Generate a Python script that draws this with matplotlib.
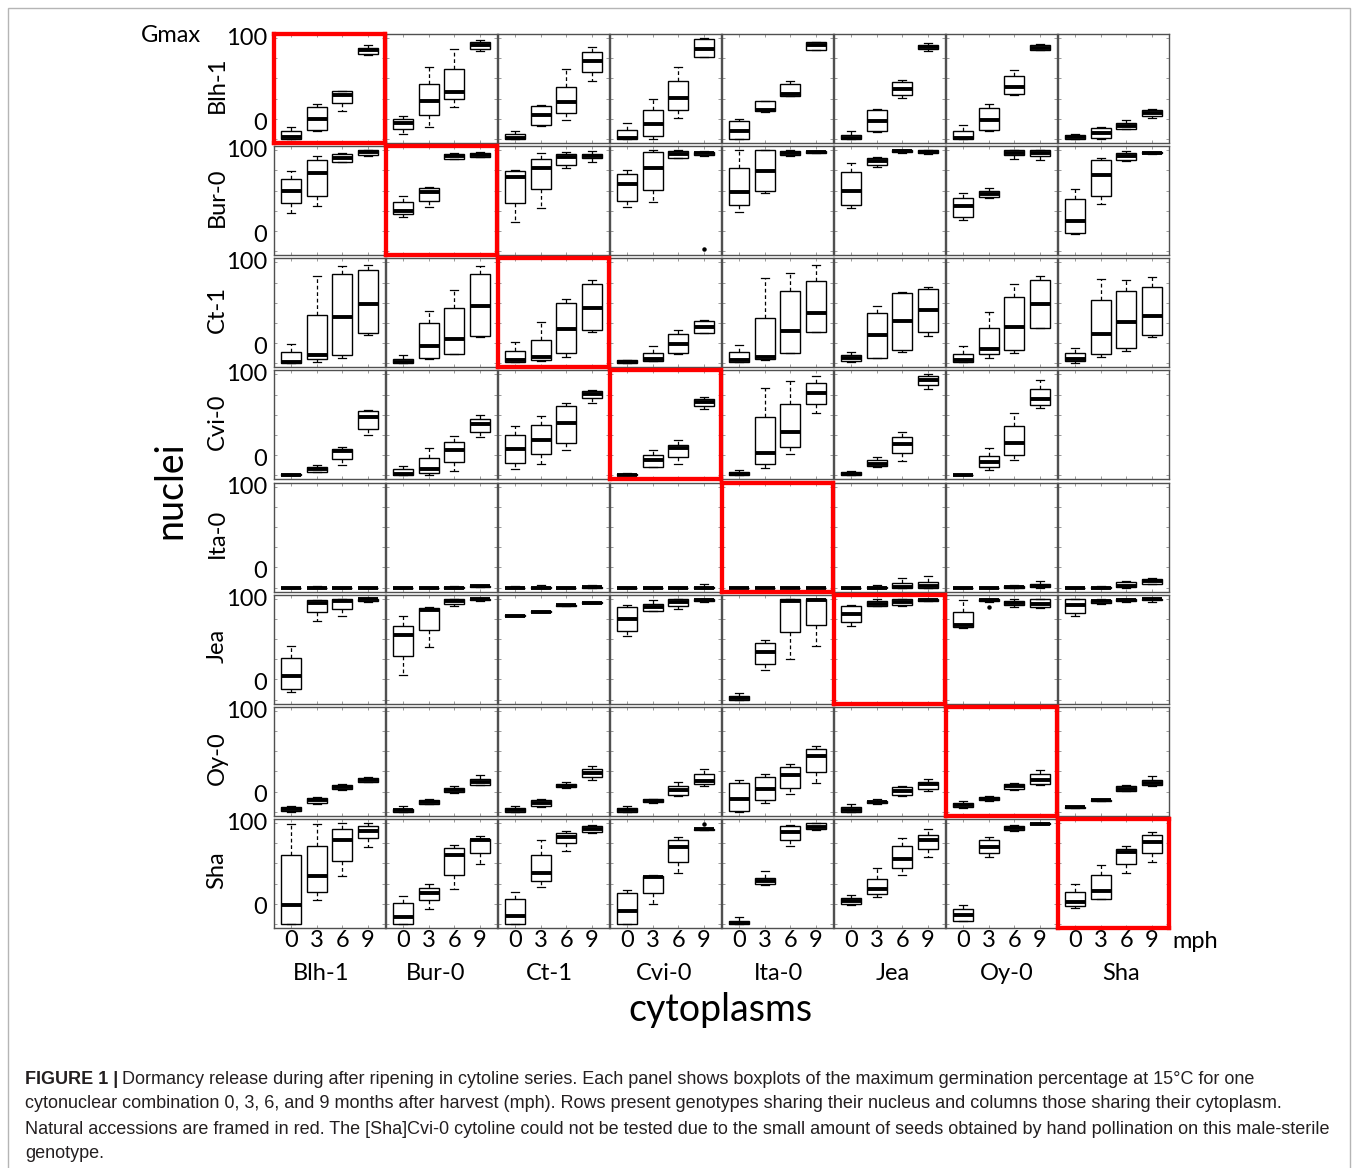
import matplotlib
matplotlib.use("Agg")
import matplotlib.pyplot as plt
from matplotlib.patches import Rectangle

plt.rcParams['font.family'] = ['Lato', 'DejaVu Sans']

genotypes = ["Blh-1", "Bur-0", "Ct-1", "Cvi-0", "Ita-0", "Jea", "Oy-0", "Sha"]
mph = ["0", "3", "6", "9"]

# Gmax box statistics (whislo, q1, median, q3, whishi) per cytoplasm, for 0/3/6/9 mph.
# One list per nucleus, cytoplasms in the order of `genotypes`.
blh1_nuc = [
    [(0, 0, 2, 8, 12), (8, 8.5, 19.5, 32, 35), (28, 36, 44, 48, 48), (83, 84, 88, 90, 93)],
    [(5, 9.5, 16, 19.5, 22.5), (12, 23.5, 38, 54, 71), (32, 40, 47, 69, 89), (87, 89.5, 93.5, 96, 98)],
    [(0, 0, 1, 5, 7.5), (13, 14, 23.5, 32.5, 33.5), (19, 26, 37, 51, 69), (57, 66, 77.5, 86, 91)],
    [(0, 0, 1, 8.5, 16), (0, 3, 14.5, 29, 40), (21, 28.5, 41, 57.5, 71), (81, 81, 89.5, 99.5, 100)],
    [(0, 0, 7.5, 17.5, 19.5), (27, 28, 29, 37.5, 38), (42.5, 42.5, 44.5, 54.5, 57.5), (88, 88.5, 93, 96, 96.5)],
    [(0, 0, 1, 4, 7.5), (6.5, 7.5, 18, 28.5, 29.5), (40.5, 43.5, 49.5, 56, 58), (87, 89, 91.5, 93.5, 95)],
    [(0, 0, 1, 8, 14), (7.5, 8.5, 19, 30.5, 34.5), (44, 44.5, 51, 62.5, 68.5), (88, 88, 90, 93, 94)],
    [(0, 0, 2, 4, 5), (0, 1, 6, 11, 12), (9.5, 9.5, 12.5, 16, 18.5), (21, 22.5, 26, 28.5, 30)],
]
bur0_nuc = [
    [(38, 48, 60, 71, 79), (45, 55, 77, 90, 94), (88, 88, 92.5, 96, 97), (94, 95, 98, 100, 100)],
    [(33.5, 36.5, 40, 48.5, 55), (44, 50, 58.5, 63, 64), (91, 91.5, 94, 96, 97), (93, 93.5, 95.5, 97, 98)],
    [(28.5, 48, 73.5, 79, 80), (42.5, 62, 82, 91.5, 97), (82, 85.5, 93, 96.5, 98), (88.5, 92.5, 94.5, 96.5, 99)],
    [(44, 50, 66.5, 76.5, 80), (49, 61, 82, 98, 100), (92, 92.5, 96.5, 99.5, 100), (94, 95, 97, 98, 99)],
    [(39, 46, 59, 82, 100), (58, 60, 79, 100, 100), (94, 95, 97, 99.5, 100), (97, 97.5, 98, 99, 99.5)],
    [(43, 46, 60, 78.5, 87.5), (83, 85, 89, 92.5, 93), (97, 98, 99, 100, 100), (96, 97, 98, 100, 100)],
    [(31, 33.5, 45, 52.5, 57.5), (53, 53.5, 57, 60, 63), (91, 95, 97.5, 100, 100), (90, 94.5, 97, 100, 100)],
    [(16.5, 17.5, 30, 51.5, 62), (47, 54.5, 75, 90, 92.5), (89, 90, 94.5, 97.5, 99), (96, 97, 97.5, 98, 98)],
]
ct1_nuc = [
    [(0, 0, 1, 11, 19.5), (1.2, 3.9, 7.9, 47.9, 86.5), (4.9, 7.9, 46.2, 88.9, 96.5), (28.2, 29.9, 58.9, 92.2, 97.2)],
    [(0, 0, 1.5, 4.5, 7.9), (3.9, 5.5, 17.5, 39.9, 52.2), (8.9, 8.9, 24.5, 54.5, 72.2), (26.2, 27.2, 56.5, 88.9, 96.2)],
    [(1, 1.2, 3.2, 12.2, 21.2), (2.2, 2.9, 6.2, 22.9, 40.5), (6.5, 10.5, 33.9, 59.9, 63.9), (31.2, 33.2, 54.5, 78.9, 82.9)],
    [(0, 0, 1.5, 3, 3.5), (2.2, 2.2, 3.9, 10.2, 17.2), (8.9, 10.5, 18.9, 28.9, 33.2), (29.5, 29.9, 35.5, 41.5, 42.9)],
    [(1, 1.2, 3.2, 11.2, 17.9), (3.2, 3.9, 6.5, 44.5, 84.5), (10.2, 10.2, 32.2, 71.2, 89.9), (31.2, 31.2, 49.9, 81.5, 97.2)],
    [(1.2, 2.2, 5.5, 8.2, 11.5), (5.5, 5.5, 27.9, 49.9, 56.5), (11.5, 12.9, 41.5, 69.9, 70.5), (27.2, 31.2, 53.2, 73.9, 75.5)],
    [(1, 1.2, 3.2, 8.9, 17.2), (5.5, 8.9, 13.9, 34.9, 51.2), (10.5, 12.9, 35.5, 65.5, 78.9), (34.5, 34.9, 58.9, 82.2, 86.5)],
    [(0.5, 2.2, 4.5, 9.9, 15.5), (6.5, 9.5, 28.9, 62.2, 83.2), (12.2, 15.5, 40.5, 71.2, 82.2), (26.2, 28.2, 47.2, 75.5, 85.5)],
]
cvi0_nuc = [
    [(0, 0, 0.5, 1, 1.5), (3.7, 3.7, 6, 8.3, 10), (10, 16, 23.7, 26, 27.7), (40.3, 46, 57.7, 63.7, 65)],
    [(0, 0, 1.7, 6, 9.3), (0, 2.7, 6, 17.7, 27), (4.3, 13.7, 24.7, 32.7, 39.3), (38.3, 42.7, 51.3, 56, 60)],
    [(6.7, 12.7, 26, 40, 49.3), (11.7, 21, 35.3, 50.3, 58.7), (25.3, 31.7, 51.7, 68.7, 72), (71.7, 77, 80.3, 83.7, 84.3)],
    [(0, 0, 0.5, 1, 2), (8.3, 8.3, 15.3, 20.3, 25.3), (11, 18.7, 27, 30.3, 35.3), (65.3, 68.7, 72.7, 75.3, 77.7)],
    [(0, 0, 1.7, 3.7, 5.3), (7, 11, 21.7, 57.7, 87), (21, 28.3, 43.3, 71, 93.3), (62, 71, 82, 91.7, 98.7)],
    [(0, 0, 1, 3, 4.3), (8.7, 9.3, 11.7, 15, 18.3), (14.3, 21.7, 31, 37.7, 42.7), (85.3, 90, 94.3, 98.3, 100)],
    [(0, 0, 0, 0.5, 1), (5, 8.7, 13.3, 19.3, 27), (15.3, 20.3, 32, 49.3, 62), (67, 70, 75.3, 86, 94.3)],
    [],  # [Sha]Cvi-0 not tested
]
ita0_nuc = [
    [(0, 0, 0, 0, 0), (0, 0, 0, 0, 1.5), (0, 0, 0, 0, 0), (0, 0, 0, 0, 0)],
    [(0, 0, 0, 0, 0), (0, 0, 0, 0, 0), (0, 0, 0, 0.5, 2), (0.5, 1, 1.5, 2, 2.5)],
    [(0, 0, 0, 0, 1.5), (0, 0, 0, 0.5, 2.5), (0, 0, 0, 0, 0), (0, 0, 0.5, 1, 2.5)],
    [(0, 0, 0, 0, 0), (0, 0, 0, 0, 0), (0, 0, 0, 0, 0), (0, 0, 0, 1, 3)],
    [(0, 0, 0, 0, 0), (0, 0, 0, 0, 0), (0, 0, 0, 0, 0), (0, 0, 0, 0, 0)],
    [(0, 0, 0, 0, 0), (0, 0, 0, 0.5, 2.5), (0, 0, 1, 4.4, 9), (0, 0, 1.5, 5.4, 11)],
    [(0, 0, 0, 0, 0), (0, 0, 0, 0, 0), (0, 0, 0.5, 1.5, 2.5), (0, 0.5, 1.5, 3.4, 6.7)],
    [(0, 0, 0, 0, 0), (0, 0, 0, 0.5, 2), (0, 0.3, 2, 5.4, 6.7), (3, 3.4, 6, 8.4, 9.4)],
]
jea_nuc = [
    [(7.3, 10.7, 23.3, 41.7, 52.7), (78.3, 86.7, 96, 98.3, 98.5), (83.3, 90, 97.7, 100, 100), (97, 98, 99.5, 100, 100)],
    [(24, 43.3, 64, 72.7, 83.3), (52.3, 69.3, 89.3, 91, 91.5), (93, 94.3, 97.7, 100, 100), (98, 98.5, 99.5, 100, 100)],
    [(82.8, 82.8, 83.3, 83.8, 83.8), (86.8, 86.8, 87.3, 87.8, 87.8), (92.8, 92.8, 93.3, 93.8, 93.8), (95.5, 95.5, 96, 96.5, 96.5)],
    [(62.7, 67.7, 80, 91.7, 93.3), (88, 88.3, 91.7, 95, 98.3), (90, 92.7, 96.7, 99.3, 100), (97, 98, 99, 100, 100)],
    [(0, 0, 1.3, 3.3, 6.7), (29, 35, 47.3, 55.7, 59), (40, 67.3, 97.7, 100, 100), (52.7, 74.3, 99, 100, 100)],
    [(73.3, 76.7, 85, 92.7, 93.3), (92.7, 92.7, 95, 97.7, 99.3), (92.5, 93.3, 96.7, 100, 100), (97.5, 98, 99, 100, 100)],
    [(70.7, 71.7, 74.3, 87.3, 98.3), (97, 97.5, 98.5, 99.5, 100), (92, 93.3, 96, 98, 99.5), (91, 92.3, 95, 99.3, 100)],
    [(82.7, 85.7, 94, 99.3, 99.5), (94.7, 95.5, 97.5, 99, 100), (97, 97.5, 99, 100, 100), (97, 98.5, 99.5, 100, 100)],
]
oy0_nuc = [
    [(0, 0.4, 2.7, 4.7, 5.4), (8, 8.7, 11.4, 13.7, 14.5), (21.4, 22.7, 25, 27, 27.5), (29.5, 29.7, 31.4, 33, 34)],
    [(0, 0, 1.4, 3, 5.4), (7.5, 8, 10, 12, 12.5), (19, 19.4, 21.4, 23.7, 25.4), (27, 27, 29.7, 32.7, 36)],
    [(0, 0, 1.4, 3.7, 5.4), (5, 5.4, 8.7, 11.4, 12.4), (24, 24.4, 26, 28, 29.4), (31.4, 34.4, 38.7, 42, 45.4)],
    [(0, 0, 1.4, 4, 5.4), (9, 9.4, 11, 12.7, 13), (16, 17, 21.4, 25.4, 29.4), (25.4, 27.7, 30.4, 37.7, 42.7)],
    [(0, 0.4, 13, 28.7, 32), (8.7, 11.4, 23, 34.4, 37), (18, 23.7, 36, 44.4, 47), (28.7, 39.4, 55.4, 62.7, 65.4)],
    [(0, 0, 2, 5, 7.4), (8, 9, 9.7, 11, 12.4), (16, 17, 21, 24.7, 26), (21, 22.7, 27.4, 29.7, 32.7)],
    [(4, 4.4, 6.4, 8.7, 10.4), (11, 11.4, 13, 14.4, 15.4), (22, 23, 25.4, 27.7, 28.4), (27, 28, 32, 37, 41.4)],
    [(3.7, 3.7, 4.4, 5, 5), (10.5, 10.7, 11.4, 12, 12.4), (20.4, 21, 23, 25.4, 26.4), (26, 26.4, 28.7, 32, 35.4)],
]
sha_nuc = [
    [(0, 0, 18.7, 68.7, 99.3), (23.3, 32, 47.7, 77.7, 99.3), (47.7, 62, 82.7, 93.7, 100), (76, 85.3, 91.7, 97, 100)],
    [(0, 0, 6.7, 20.3, 27.7), (15, 23.7, 30.3, 35.3, 39.3), (34.3, 48.3, 68.7, 75.3, 78.3), (59.3, 70.3, 83.3, 84.3, 86.7)],
    [(0, 0, 7.7, 24.3, 32), (37, 42.7, 50, 68.7, 82.7), (72, 80, 86, 90.3, 91.7), (90, 91, 94, 96.7, 98)],
    [(0, 0, 12.7, 30.3, 33.7), (19.3, 31, 46.7, 47.7, 48.7), (50, 61.7, 76, 82.7, 86), (93, 93.3, 93.7, 94, 94.3)],
    [(0, 0, 1, 3.3, 6.7), (39, 39.3, 42.7, 46, 52), (77.7, 83.3, 91, 96.7, 98), (93, 94.3, 96, 100, 100)],
    [(19, 19.3, 22.7, 26, 28.7), (27, 30, 34.3, 44.3, 55.3), (48.3, 55.3, 64.3, 77.7, 85.3), (66.7, 74.3, 83.3, 87.7, 94.3)],
    [(2.7, 2.7, 9.3, 15.3, 18.7), (66, 70.3, 76, 82.7, 86), (92, 92.7, 95, 97, 98), (99, 99, 99.3, 99.6, 100)],
    [(16, 17.7, 22, 32, 39.3), (25, 25, 32.7, 48.7, 58.7), (50, 59.3, 71, 74.3, 77), (61.7, 70, 81, 87.7, 91)],
]
nuclei_data = [blh1_nuc, bur0_nuc, ct1_nuc, cvi0_nuc, ita0_nuc, jea_nuc, oy0_nuc, sha_nuc]

# outlying points: (nucleus, cytoplasm, mph index, Gmax)
outliers = [("Bur-0", "Cvi-0", 3, 2.0), ("Jea", "Oy-0", 1, 92.3), ("Sha", "Cvi-0", 3, 98.7)]

W, H = 1358, 1168
fig = plt.figure(figsize=(W / 100, H / 100), dpi=100)


def fx(x):
    return x / W


def fy(y):
    return 1 - y / H


# frame around the whole figure
fig.patches.append(Rectangle((fx(8), fy(1180)), fx(1342), 1172 / H,
                             transform=fig.transFigure, fill=False,
                             edgecolor='#b5b5b5', lw=1.0))

panel_w, panel_h = 111, 109
for i, nuc in enumerate(genotypes):
    top = 34 + 112.14 * i
    for j, cyt in enumerate(genotypes):
        left = 274 + 112 * j
        ax = fig.add_axes([fx(left), fy(top + panel_h), panel_w / W, panel_h / H])
        ax.set_facecolor('none')
        stats = []
        for k, (lo, q1, med, q3, hi) in enumerate(nuclei_data[i][j]):
            fl = [v for (n, c, t, v) in outliers if n == nuc and c == cyt and t == k]
            stats.append(dict(whislo=lo, q1=q1, med=med, q3=q3, whishi=hi, fliers=fl))
        if stats:
            ax.bxp(stats, positions=range(1, len(stats) + 1), widths=0.78,
                   capwidths=0.32, patch_artist=True,
                   boxprops=dict(facecolor='white', edgecolor='black', lw=1.0),
                   medianprops=dict(color='black', lw=2.8, solid_capstyle='butt'),
                   whiskerprops=dict(color='black', lw=0.9, linestyle=(0, (3, 2.2))),
                   capprops=dict(color='black', lw=0.9),
                   flierprops=dict(marker='o', markersize=2.2, markerfacecolor='black',
                                   markeredgecolor='black'))
        ax.set_xlim(0.34, 4.66)
        ax.set_ylim(-4, 104)
        ax.set_xticks([1, 2, 3, 4])
        ax.set_yticks([0, 20, 40, 60, 80, 100])
        ax.tick_params(direction='in', length=2.5, width=0.6, colors='#8a8a8a',
                       top=True, right=True, labelleft=False,
                       labelbottom=(i == len(genotypes) - 1), labelcolor='black',
                       labelsize=17, pad=1.5)
        if i == len(genotypes) - 1:
            ax.set_xticklabels(mph)
        if i == j:
            for s in ax.spines.values():
                s.set_color('#ff0000')
                s.set_linewidth(3.1)
            ax.set_zorder(5)
        else:
            for s in ax.spines.values():
                s.set_color('#505050')
                s.set_linewidth(1.0)

        if j == 0:
            fig.text(fx(267), fy(top + 4.5), "100", ha='right', va='center', fontsize=17)
            fig.text(fx(267), fy(top + 89), "0", ha='right', va='center', fontsize=17)
            fig.text(fx(217), fy(top + 51), nuc, ha='center', va='center',
                     rotation=90, fontsize=17)

# column names under the grid
for j, cyt in enumerate(genotypes):
    fig.text(fx(321 + 114.3 * j), fy(973), cyt, ha='center', va='center', fontsize=17)

fig.text(fx(141), fy(36), "Gmax", ha='left', va='center', fontsize=17)
fig.text(fx(1172), fy(942), "mph", ha='left', va='center', fontsize=17)
fig.text(fx(170), fy(490), "nuclei", ha='center', va='center', rotation=90, fontsize=27)
fig.text(fx(720), fy(1010), "cytoplasms", ha='center', va='center', fontsize=27)

# caption
cap_kw = dict(fontsize=13, family=['Liberation Sans', 'DejaVu Sans'], color='#231f20',
              va='center', ha='left')
head = fig.text(fx(25), fy(1079), "FIGURE 1 |", fontweight='bold', **cap_kw)
fig.canvas.draw()
ext = head.get_window_extent(fig.canvas.get_renderer())
fig.text(ext.x1 / W + 4 / W, fy(1079),
         "Dormancy release during after ripening in cytoline series. Each panel shows "
         "boxplots of the maximum germination percentage at 15°C for one", **cap_kw)
fig.text(fx(25), fy(1104),
         "cytonuclear combination 0, 3, 6, and 9 months after harvest (mph). Rows present "
         "genotypes sharing their nucleus and columns those sharing their cytoplasm.", **cap_kw)
fig.text(fx(25), fy(1129),
         "Natural accessions are framed in red. The [Sha]Cvi-0 cytoline could not be tested "
         "due to the small amount of seeds obtained by hand pollination on this male-sterile",
         **cap_kw)
fig.text(fx(25), fy(1154), "genotype.", **cap_kw)

fig.savefig("out.png", dpi=100, facecolor='white')
